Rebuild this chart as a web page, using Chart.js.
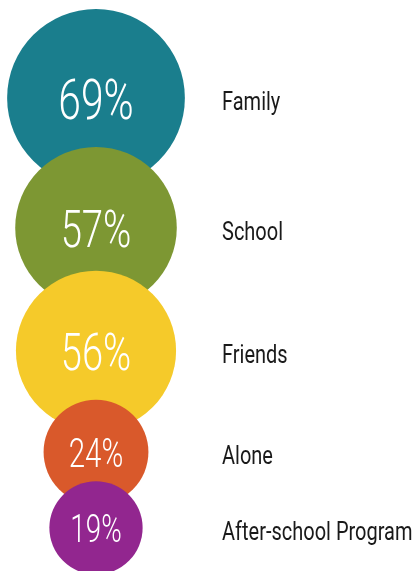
<!DOCTYPE html>
<html>
<head>
<meta charset="utf-8">
<script src="https://cdn.jsdelivr.net/npm/chart.js@4"></script>
<style>
  html, body { margin: 0; padding: 0; background: #fff; }
  canvas { display: block; }
</style>
</head>
<body>
<canvas id="bubbleChart" width="415" height="571"></canvas>
<script>
// data
const categories = ['Family', 'School', 'Friends', 'Alone', 'After-school Program'];
const percentages = [69, 57, 56, 24, 19];
const colors = ['#1a7e8d', '#7d9733', '#f5ca2a', '#d9592b', '#92268f'];

// circle area follows the value; circles are stacked with some overlap
const radiusFor = v => 10.7 * Math.sqrt(v);
const overlap = 0.765;
const topGap = 9;

const radii = percentages.map(radiusFor);
const points = [];
radii.forEach((r, i) => {
    const y = i === 0 ? topGap + r : points[i - 1].y + overlap * (radii[i - 1] + r);
    points.push({ x: 0, y: y, r: r });
});

// draws the percentage inside and the category to the right of each bubble
const bubbleLabels = {
    id: 'bubbleLabels',
    afterDatasetsDraw(chart) {
        const ctx = chart.ctx;
        const meta = chart.getDatasetMeta(0);
        meta.data.forEach((el, i) => {
            const r = radii[i];
            const cap = 0.3 * r + 13;
            ctx.save();
            ctx.fillStyle = '#ffffff';
            ctx.textAlign = 'center';
            ctx.textBaseline = 'alphabetic';
            ctx.font = '300 ' + (cap / 0.711).toFixed(1) + 'px Roboto';
            ctx.translate(el.x, el.y + cap / 2 + 1);
            ctx.scale(0.73, 1);
            ctx.fillText(percentages[i] + '%', 0, 0);
            ctx.restore();

            ctx.save();
            ctx.fillStyle = '#1a1a1a';
            ctx.textAlign = 'left';
            ctx.textBaseline = 'alphabetic';
            ctx.font = '400 25px Roboto';
            ctx.translate(el.x + 126, el.y + 12);
            ctx.scale(0.8, 1);
            ctx.fillText(categories[i], 0, 0);
            ctx.restore();
        });
    }
};

const ctxBubble = document.getElementById('bubbleChart').getContext('2d');
const bubbleChart = new Chart(ctxBubble, {
    type: 'bubble',
    data: {
        labels: categories,
        datasets: [{
            data: points,
            backgroundColor: colors,
            borderWidth: 0,
            hoverBorderWidth: 0,
            clip: false
        }]
    },
    options: {
        responsive: false,
        animation: false,
        events: [],
        layout: { padding: 0, autoPadding: false },
        plugins: {
            legend: { display: false },
            tooltip: { enabled: false }
        },
        scales: {
            x: { type: 'linear', min: -96, max: 319, display: false },
            y: { type: 'linear', min: 0, max: 571, reverse: true, display: false }
        }
    },
    plugins: [bubbleLabels]
});
</script>
</body>
</html>
